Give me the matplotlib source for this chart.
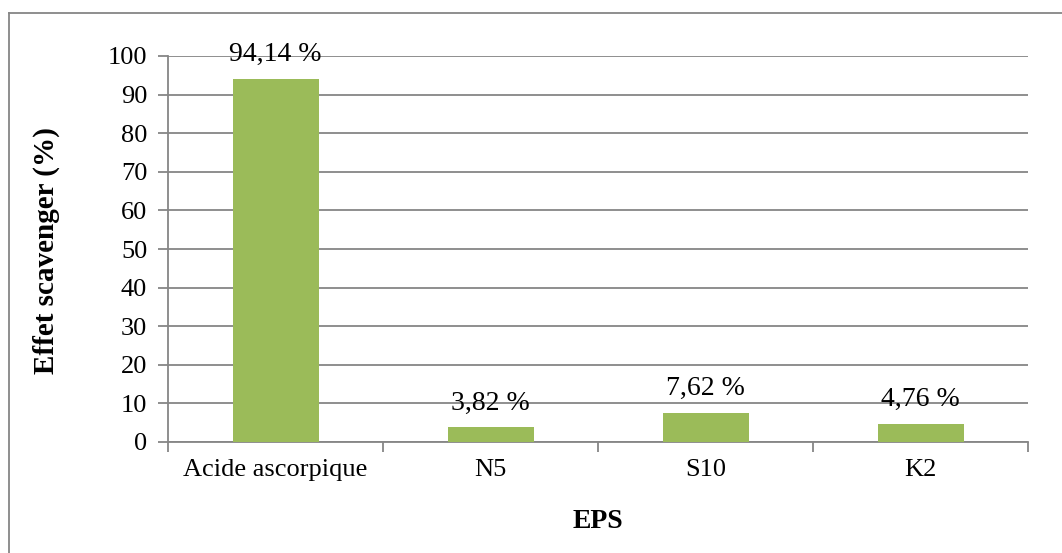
import matplotlib.pyplot as plt
from matplotlib.lines import Line2D

categories = ["Acide ascorpique", "N5", "S10", "K2"]
values = [94.14, 3.82, 7.62, 4.76]
labels = ["94,14 %", "3,82 %", "7,62 %", "4,76 %"]
yticks = [0, 10, 20, 30, 40, 50, 60, 70, 80, 90, 100]

plt.rcParams['font.family'] = ['Liberation Serif', 'DejaVu Serif']

fig = plt.figure(figsize=(10.62, 5.53), dpi=100)
ax = fig.add_axes([168 / 1062, 1 - 442 / 553, 860 / 1062, 386 / 553])

grey = '#868686'
x = range(len(categories))
ax.bar(x, values, width=0.4, color='#9BBB59', zorder=3)

for i, (v, lab) in enumerate(zip(values, labels)):
    ax.annotate(lab, (i, v), xytext=(0, 17.5), textcoords='offset points',
                ha='center', va='center', fontsize=20, zorder=4)

ax.set_xlim(-0.5, len(categories) - 0.5)
ax.set_ylim(0, 100)
ax.set_yticks(yticks)
ax.yaxis.grid(True, color=grey, linewidth=1.3, zorder=0)
ax.set_axisbelow(True)

ax.set_xticks(list(x))
ax.set_xticklabels(categories, fontsize=19)
ax.set_xticks([i - 0.5 for i in range(len(categories) + 1)], minor=True)
ax.tick_params(axis='x', which='major', length=0, pad=12)
ax.tick_params(axis='x', which='minor', length=7, width=1.3, color=grey)
ax.tick_params(axis='y', length=7, width=1.3, color=grey, labelsize=19, pad=8)

for s in ['top', 'right']:
    ax.spines[s].set_visible(False)
for s in ['left', 'bottom']:
    ax.spines[s].set_color(grey)
    ax.spines[s].set_linewidth(1.3)

ax.set_ylabel("Effet scavenger (%)", fontsize=21, fontweight='bold', va='center')
ax.yaxis.set_label_coords(-0.141, 0.497)
ax.set_xlabel("EPS", fontsize=20, fontweight='bold', va='center')
ax.xaxis.set_label_coords(0.5, -0.207)

# chart area frame (only top and left edges visible)
fig.add_artist(Line2D([9 / 1062, 1], [1 - 13 / 553, 1 - 13 / 553],
                      transform=fig.transFigure, color=grey, linewidth=1.3))
fig.add_artist(Line2D([9 / 1062, 9 / 1062], [0, 1 - 13 / 553],
                      transform=fig.transFigure, color=grey, linewidth=1.3))

fig.savefig("out.png", dpi=100, facecolor='white')
